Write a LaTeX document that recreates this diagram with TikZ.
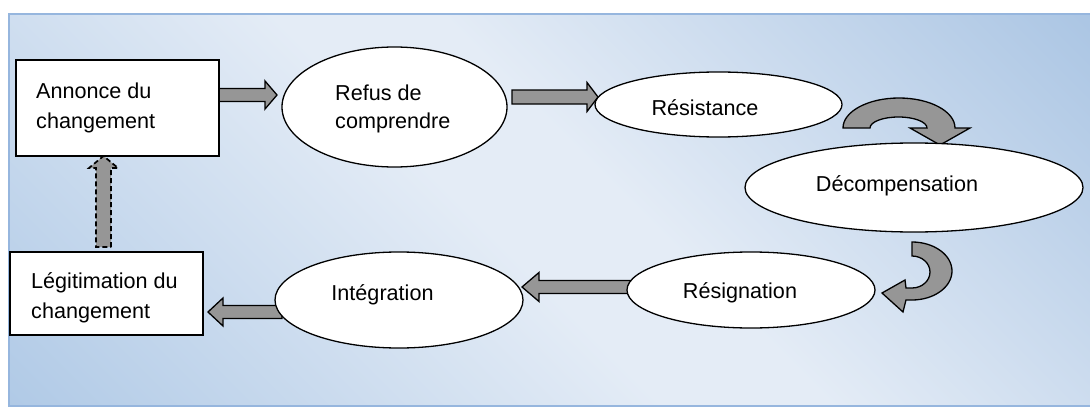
\documentclass[tikz,border=0pt]{standalone}
\usepackage{fontspec}
\setmainfont{Liberation Sans}
\usetikzlibrary{shapes.geometric,calc}
\definecolor{pdark}{RGB}{166,194,226}
\definecolor{pdarkb}{RGB}{172,199,229}
\definecolor{plight}{RGB}{228,236,246}
\definecolor{pborder}{RGB}{150,182,222}
\definecolor{agray}{RGB}{150,150,150}
\pgfdeclareverticalshading{panelshade}{100bp}{color(0bp)=(pdarkb); color(12bp)=(pdarkb); color(46bp)=(plight); color(54bp)=(plight); color(88bp)=(pdark); color(100bp)=(pdark)}
\pgfdeclarelayer{panel}
\pgfdeclarelayer{arrows}
\pgfsetlayers{panel,arrows,main}
% horizontal block arrow: start, tip, head length, half shaft, half head, style
\newcommand\hblock[6]{\draw[#6] let \p1=(#1), \p2=(#2), \p3=($(\x2,\y2)!#3!(\x1,\y2)$) in
 ({\x1},{\y2+#4}) -- ({\x3},{\y2+#4}) -- ({\x3},{\y2+#5}) -- (\x2,\y2) -- ({\x3},{\y2-#5}) -- ({\x3},{\y2-#4}) -- ({\x1},{\y2-#4}) -- cycle;}
% vertical block arrow
\newcommand\vblock[6]{\draw[#6] let \p1=(#1), \p2=(#2), \p3=($(\x2,\y2)!#3!(\x2,\y1)$) in
 ({\x2+#4},{\y1}) -- ({\x2+#4},{\y3}) -- ({\x2+#5},{\y3}) -- (\x2,\y2) -- ({\x2-#5},{\y3}) -- ({\x2-#4},{\y3}) -- ({\x2-#4},{\y1}) -- cycle;}
\begin{document}
\begin{tikzpicture}[x=1pt,y=1pt,
  box/.style={draw=black, fill=white, line width=1.3pt, inner sep=0pt, outer sep=0pt},
  ell/.style={ellipse, draw=black, fill=white, line width=1.3pt, inner sep=0pt, outer sep=0pt},
  txt/.style={inner sep=0pt, font=\fontsize{21.6}{30}\selectfont},
  blk/.style={fill=agray, draw=black, line width=1.3pt, line join=miter},
  dblk/.style={fill=agray, draw=black, line width=1.7pt, dash pattern=on 5pt off 3pt}]
\useasboundingbox (0,0) rectangle (1090,408);
\begin{pgfonlayer}{panel}
\fill[white] (0,0) rectangle (1090,408);
\shadedraw[shading=panelshade, shading angle=-45, draw=pborder, line width=1.2pt] (9,2) rectangle (1096,394);
\end{pgfonlayer}
% shapes
\node[box, minimum width=203pt, minimum height=96pt] (annonce) at (117.5,300) {};
\node[box, minimum width=193pt, minimum height=83pt] (legit) at (106.5,114.5) {};
\node[ell, minimum width=225pt, minimum height=120pt] (refus) at (394.5,301) {};
\node[ell, minimum width=247pt, minimum height=65pt] (res) at (718.5,303.5) {};
\node[ell, minimum width=338pt, minimum height=89pt] (decomp) at (914,220.5) {};
\node[ell, minimum width=248pt, minimum height=76pt] (resig) at (751,118) {};
\node[ell, minimum width=248pt, minimum height=96pt] (integ) at (399,108) {};
% texts
\node[txt, anchor=west, align=left] (annonceT) at (36,300.5) {Annonce du\\changement};
\node[txt, anchor=west, align=left] (legitT) at (31,110.5) {Légitimation du\\changement};
\node[txt, anchor=west, align=left, font=\fontsize{21.6}{28}\selectfont] (refusT) at (335,299) {Refus de\\comprendre};
\node[txt, anchor=base] (resT) at (705,293) {Résistance};
\node[txt, anchor=base] (decompT) at (897,217) {Décompensation};
\node[txt, anchor=base] (resigT) at (740,110) {Résignation};
\node[txt, anchor=base] (integT) at (382.5,108) {Intégration};
% connector end points
\coordinate (a1s) at ([yshift=13pt]annonce.east);
\coordinate (a1t) at ([xshift=-5pt,yshift=12pt]refus.west);
\coordinate (a2s) at ([xshift=5pt,yshift=10pt]refus.east);
\coordinate (a2t) at ([xshift=3pt,yshift=7.5pt]res.west);
\coordinate (a3s) at ([xshift=5pt,yshift=3pt]resig.west);
\coordinate (a3t) at ([xshift=-1pt,yshift=13pt]integ.east);
\coordinate (a4s) at ([xshift=7pt,yshift=-12pt]integ.west);
\coordinate (a4t) at ([xshift=5pt,yshift=-18.5pt]legit.east);
\coordinate (a5s) at ([xshift=-3pt,yshift=5pt]legit.north);
\coordinate (a5t) at ([xshift=-14pt]annonce.south);
\begin{pgfonlayer}{arrows}
\hblock{a1s}{a1t}{12pt}{6.5pt}{14pt}{blk}
\hblock{a2s}{a2t}{11pt}{7pt}{14.5pt}{blk}
\hblock{a3s}{a3t}{17pt}{6.5pt}{14.5pt}{blk}
\hblock{a4s}{a4t}{15pt}{6.5pt}{14pt}{blk}
\vblock{a5s}{a5t}{12pt}{7.5pt}{14.5pt}{dblk}
% curved arrow Résistance -> Décompensation
\begin{scope}[shift={(res.east)}]
\draw[blk] (1,-23.5) arc[start angle=180, end angle=0, x radius=56pt, y radius=30pt]
  -- (128,-23.5) -- (98,-40.5) -- (68,-23.5) -- (85,-23.5)
  arc[start angle=0, end angle=180, x radius=28.5pt, y radius=11pt] -- cycle;
\end{scope}
% curved arrow Décompensation -> Résignation
\begin{scope}[shift={(decomp.south)}]
\draw[blk] (-2,-10) arc[start angle=90, end angle=-90, x radius=40pt, y radius=29pt]
  -- (-8,-68) -- (-11,-80) -- (-32,-61) -- (-9,-48) -- (-8,-56) -- (-2,-56)
  arc[start angle=-90, end angle=90, x radius=18pt, y radius=16pt] -- cycle;
\end{scope}
\end{pgfonlayer}
\end{tikzpicture}
\end{document}
